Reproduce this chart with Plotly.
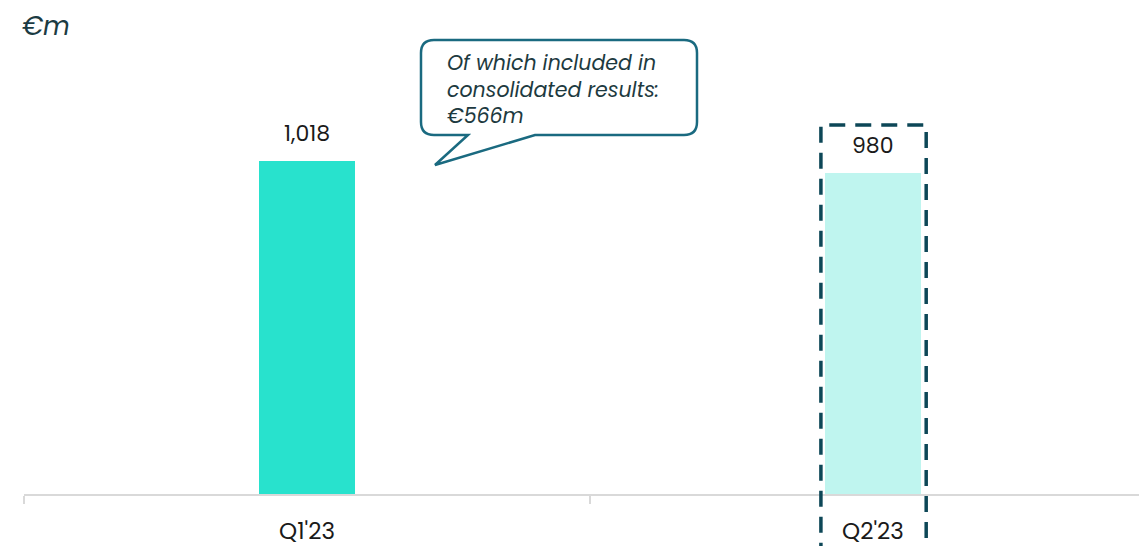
import plotly.graph_objects as go

# Quarterly values (€m)
quarters = ["Q1'23", "Q2'23"]
values = [1018, 980]
value_labels = ["1,018", "980"]
bar_colors = ["#28e2cd", "#bff5ef"]
callout_text = "Of which included in<br>consolidated results:<br>€566m"
unit_label = "€m"

W, H = 1139, 546
ML, MR, MT, MB = 24, 0, 20, 52
PLOT_W = W - ML - MR
PLOT_H = H - MT - MB
X_RANGE = [-0.5, 1.47]
Y_RANGE = [0, 1449]

DARK = "#0d4757"
CALLOUT = "#1a6a80"
TEXT = "#1a1a1a"
FONT = "Poppins, Lato, sans-serif"


def px_to_paper(px, py):
    return (px - ML) / PLOT_W, (H - MB - py) / PLOT_H


fig = go.Figure()
fig.add_trace(go.Bar(
    x=quarters,
    y=values,
    width=0.168,
    marker=dict(color=bar_colors, line=dict(width=0)),
    hoverinfo="skip",
))

# value labels above the bars
for q, v, lab in zip(quarters, values, value_labels):
    fig.add_annotation(x=q, y=v, xref="x", yref="y", text=lab, showarrow=False,
                       yanchor="bottom", yshift=10,
                       font=dict(family=FONT, size=22, color=TEXT))

# dashed frame around the second quarter, reaching below the axis
frame_top = 1128
fy_top = frame_top / Y_RANGE[1]
fig.add_shape(type="rect", xref="x", yref="paper",
              x0=1 - 0.092, x1=1 + 0.094, y0=-0.2, y1=fy_top,
              line=dict(color=DARK, width=3.5, dash="16px,10px"),
              fillcolor="rgba(0,0,0,0)", layer="above")

# speech-bubble callout
bx0, bx1, by0, by1, r = 421, 697, 40, 135, 13
tail = [(535, 135), (435, 165), (468, 135)]


def P(x, y):
    a, b = px_to_paper(x, y)
    return f"{a:.5f},{b:.5f}"


path = (
    f"M {P(bx0 + r, by0)} L {P(bx1 - r, by0)} Q {P(bx1, by0)} {P(bx1, by0 + r)} "
    f"L {P(bx1, by1 - r)} Q {P(bx1, by1)} {P(bx1 - r, by1)} "
    f"L {P(*tail[0])} L {P(*tail[1])} L {P(*tail[2])} "
    f"L {P(bx0 + r, by1)} Q {P(bx0, by1)} {P(bx0, by1 - r)} "
    f"L {P(bx0, by0 + r)} Q {P(bx0, by0)} {P(bx0 + r, by0)} Z"
)
fig.add_shape(type="path", xref="paper", yref="paper", path=path,
              line=dict(color=CALLOUT, width=2.5), fillcolor="white", layer="above")

tx, ty = px_to_paper(445, 46)
fig.add_annotation(xref="paper", yref="paper", x=tx, y=ty, xanchor="left", yanchor="top",
                   align="left", showarrow=False, text=f"<i>{callout_text}</i>",
                   font=dict(family=FONT, size=20.5, color="#1d3a40"))

ux, uy = px_to_paper(20, 26)
fig.add_annotation(xref="paper", yref="paper", x=ux, y=uy, xanchor="left", yanchor="middle",
                   showarrow=False, text=f"<i>{unit_label}</i>",
                   font=dict(family=FONT, size=26, color="#1b3b43"))

fig.update_layout(
    width=W, height=H,
    margin=dict(l=ML, r=MR, t=MT, b=MB),
    paper_bgcolor="white", plot_bgcolor="white",
    showlegend=False,
    bargap=0,
    xaxis=dict(type="category", range=X_RANGE,
               tickson="boundaries", ticks="outside", ticklen=8, tickcolor="#d9d9d9",
               tickwidth=2, showline=True, linecolor="#d9d9d9", linewidth=2,
               showgrid=False, zeroline=False, ticklabelstandoff=15,
               tickfont=dict(family=FONT, size=23, color=TEXT)),
    yaxis=dict(range=Y_RANGE, visible=False, showgrid=False, zeroline=False),
)

fig.write_html("out.html")
